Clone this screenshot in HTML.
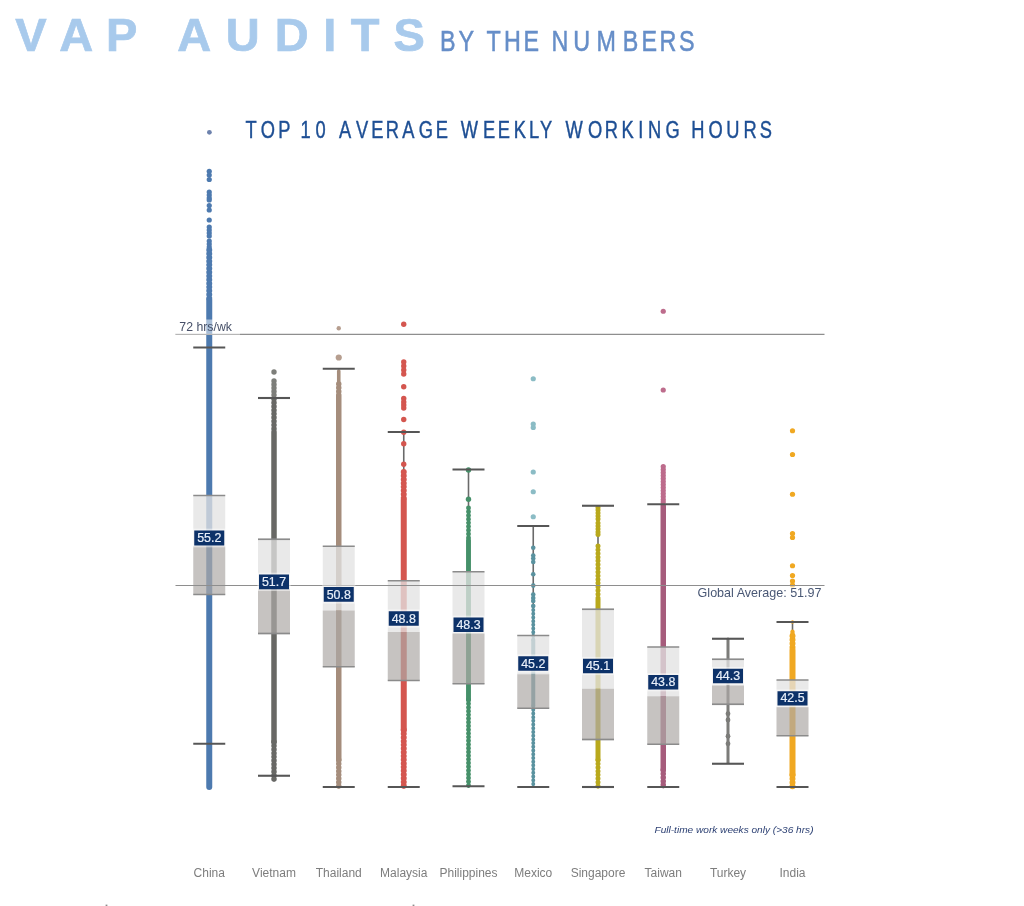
<!DOCTYPE html>
<html lang="en">
<head>
<meta charset="utf-8">
<title>VAP Audits by the Numbers</title>
<style>
html,body{margin:0;padding:0;background:#fff;}
body{width:1024px;height:906px;overflow:hidden;}
svg{display:block;font-family:"Liberation Sans",Arial,Helvetica,sans-serif;}
.big{font-weight:700;font-size:46.5px;fill:#a8caec;stroke:#a8caec;stroke-width:0.7;}
.sub{font-size:29px;fill:#668ec8;stroke:#668ec8;stroke-width:0.55;}
.ttl{font-size:23px;fill:#1e4f94;stroke:#1e4f94;stroke-width:0.45;}
.ref{font-size:12.3px;fill:#465068;}
.ax{font-size:12px;fill:#7d7d7d;text-anchor:middle;}
.lb{font-size:12.4px;fill:#e9f0fa;text-anchor:middle;stroke:#e9f0fa;stroke-width:0.2;}
.fn{font-size:9px;font-style:italic;fill:#2b3f72;}
.cap{stroke:#565656;stroke-width:2.1;}
.thin{stroke:#6a6a6a;stroke-width:1.6;}
.bx{stroke:#8b8b8b;stroke-width:1.7;}
</style>
</head>
<body>
<svg width="1024" height="906" viewBox="0 0 1024 906">
<rect width="1024" height="906" fill="#fff"/>
<defs>
<filter id="soft" x="-2%" y="-2%" width="104%" height="104%"><feGaussianBlur stdDeviation="0.55"/></filter>
<filter id="soft2" x="-2%" y="-20%" width="104%" height="140%"><feGaussianBlur stdDeviation="0.45"/></filter>
</defs>
<g filter="url(#soft2)">
<text class="big" style="font-size:47px" transform="scale(1.0000,1)" y="51.1" x="15.33 59.19 105.88 129.38 177.14 225.68 274.82 323.35 350.76 393.39">VAP AUDITS</text>
<text class="sub" style="font-size:30px" transform="scale(0.7774,1)" y="51.15" x="565.99 589.74 604.74 625.87 648.46 673.57 688.57 709.5 737.55 767.27 800.96 825.13 848.21 873.54">BY THE NUMBERS</text>
<circle cx="209.4" cy="132.3" r="2.4" fill="#6d82ad"/>
<text class="ttl" style="font-size:24.3px" transform="scale(0.7525,1)" y="138.5" x="326.25 346.68 369.76 381.91 399.37 419.13 431.28 450.58 473.2 493.22 512.79 534.62 556.6 579.03 591.18 612.24 641.89 661.49 682.89 702.91 717.61 729.76 751.6 781.44 803.71 825.78 848.07 861.11 884.55 896.7 918.65 941.67 965.09 987.92 1009.69">TOP 10 AVERAGE WEEKLY WORKING HOURS</text>
</g>
<g filter="url(#soft)">
<g id="marks">
<g fill="#4e7aaf" stroke="#4e7aaf">
<line x1="209.25" y1="250" x2="209.25" y2="787.0" stroke-width="3.9" stroke-linecap="round"/>
<line x1="209.25" y1="250" x2="209.25" y2="300" stroke-width="6" stroke-linecap="round" stroke-dasharray="0.01 3.7"/>
<line x1="209.25" y1="300" x2="209.25" y2="787.0" stroke-width="6" stroke-linecap="round"/>
<circle cx="209.25" cy="171.25" r="2.6" stroke="none"/>
<circle cx="209.25" cy="175" r="2.6" stroke="none"/>
<circle cx="209.25" cy="179.5" r="2.6" stroke="none"/>
<circle cx="209.25" cy="192" r="2.6" stroke="none"/>
<circle cx="209.25" cy="195" r="2.6" stroke="none"/>
<circle cx="209.25" cy="198" r="2.6" stroke="none"/>
<circle cx="209.25" cy="200" r="2.6" stroke="none"/>
<circle cx="209.25" cy="205.5" r="2.6" stroke="none"/>
<circle cx="209.25" cy="210" r="2.6" stroke="none"/>
<circle cx="209.25" cy="220" r="2.6" stroke="none"/>
<circle cx="209.25" cy="227" r="2.6" stroke="none"/>
<circle cx="209.25" cy="230" r="2.6" stroke="none"/>
<circle cx="209.25" cy="233" r="2.6" stroke="none"/>
<circle cx="209.25" cy="236" r="2.6" stroke="none"/>
<circle cx="209.25" cy="241" r="2.6" stroke="none"/>
<circle cx="209.25" cy="244" r="2.6" stroke="none"/>
<circle cx="209.25" cy="247" r="2.6" stroke="none"/>
</g>
<g fill="#676865" stroke="#676865">
<line x1="274" y1="399" x2="274" y2="779.75" stroke-width="3.4" stroke-linecap="round"/>
<line x1="274" y1="399" x2="274" y2="432" stroke-width="5.5" stroke-linecap="round" stroke-dasharray="0.01 3.7"/>
<line x1="274" y1="742" x2="274" y2="779.75" stroke-width="5.5" stroke-linecap="round" stroke-dasharray="0.01 3.7"/>
<line x1="274" y1="432" x2="274" y2="742" stroke-width="5.5" stroke-linecap="round"/>
<circle cx="274" cy="372" r="2.7" stroke="none" fill="#7d7e7a"/>
<circle cx="274" cy="381" r="2.7" stroke="none" fill="#7d7e7a"/>
<circle cx="274" cy="384.5" r="2.7" stroke="none" fill="#7d7e7a"/>
<circle cx="274" cy="388" r="2.7" stroke="none" fill="#7d7e7a"/>
<circle cx="274" cy="391.5" r="2.7" stroke="none" fill="#7d7e7a"/>
<circle cx="274" cy="395" r="2.7" stroke="none" fill="#7d7e7a"/>
</g>
<g fill="#a58d7c" stroke="#a58d7c">
<line x1="338.75" y1="384" x2="338.75" y2="786.75" stroke-width="3.4" stroke-linecap="round"/>
<line x1="338.75" y1="384" x2="338.75" y2="395" stroke-width="5.5" stroke-linecap="round" stroke-dasharray="0.01 3.7"/>
<line x1="338.75" y1="760" x2="338.75" y2="786.75" stroke-width="5.5" stroke-linecap="round" stroke-dasharray="0.01 3.7"/>
<line x1="338.75" y1="395" x2="338.75" y2="760" stroke-width="5.5" stroke-linecap="round"/>
<line x1="338.75" y1="371" x2="338.75" y2="384" stroke-width="3.6" stroke-linecap="round"/>
<circle cx="338.75" cy="328.25" r="2.2" stroke="none" fill="#b69e8f"/>
<circle cx="338.75" cy="357.5" r="3.1" stroke="none" fill="#b69e8f"/>
</g>
<g fill="#d4564f" stroke="#d4564f">
<line class="thin" x1="403.75" y1="432" x2="403.75" y2="472" style="stroke:#6a6a6a"/>
<line x1="403.75" y1="472" x2="403.75" y2="786.5" stroke-width="3.9" stroke-linecap="round"/>
<line x1="403.75" y1="472" x2="403.75" y2="500" stroke-width="6" stroke-linecap="round" stroke-dasharray="0.01 3.7"/>
<line x1="403.75" y1="730" x2="403.75" y2="786.5" stroke-width="6" stroke-linecap="round" stroke-dasharray="0.01 3.7"/>
<line x1="403.75" y1="500" x2="403.75" y2="730" stroke-width="6" stroke-linecap="round"/>
<circle cx="403.75" cy="324.25" r="2.7" stroke="none"/>
<circle cx="403.75" cy="362" r="2.7" stroke="none"/>
<circle cx="403.75" cy="366" r="2.7" stroke="none"/>
<circle cx="403.75" cy="370" r="2.7" stroke="none"/>
<circle cx="403.75" cy="374" r="2.7" stroke="none"/>
<circle cx="403.75" cy="386.75" r="2.7" stroke="none"/>
<circle cx="403.75" cy="398.5" r="2.7" stroke="none"/>
<circle cx="403.75" cy="402" r="2.7" stroke="none"/>
<circle cx="403.75" cy="405" r="2.7" stroke="none"/>
<circle cx="403.75" cy="408" r="2.7" stroke="none"/>
<circle cx="403.75" cy="419.5" r="2.7" stroke="none"/>
<circle cx="403.75" cy="432.3" r="2.7" stroke="none"/>
<circle cx="403.75" cy="443.75" r="2.7" stroke="none"/>
<circle cx="403.75" cy="464.25" r="2.7" stroke="none"/>
</g>
<g fill="#459069" stroke="#459069">
<line class="thin" x1="468.5" y1="469.5" x2="468.5" y2="508" style="stroke:#6a6a6a"/>
<line x1="468.5" y1="508" x2="468.5" y2="786.55" stroke-width="2.8" stroke-linecap="round"/>
<line x1="468.5" y1="508" x2="468.5" y2="540" stroke-width="4.9" stroke-linecap="round" stroke-dasharray="0.01 3.7"/>
<line x1="468.5" y1="700" x2="468.5" y2="786.55" stroke-width="4.9" stroke-linecap="round" stroke-dasharray="0.01 3.7"/>
<line x1="468.5" y1="540" x2="468.5" y2="700" stroke-width="4.9" stroke-linecap="round"/>
<circle cx="468.5" cy="470" r="2.7" stroke="none"/>
<circle cx="468.5" cy="499.25" r="2.7" stroke="none"/>
</g>
<g fill="#5a929f" stroke="#5a929f">
<line class="thin" x1="533.25" y1="526" x2="533.25" y2="636" style="stroke:#6a6a6a"/>
<line x1="533.25" y1="610" x2="533.25" y2="787.0" stroke-width="1.9" stroke-linecap="round"/>
<line x1="533.25" y1="610" x2="533.25" y2="640" stroke-width="4" stroke-linecap="round" stroke-dasharray="0.01 3.7"/>
<line x1="533.25" y1="706" x2="533.25" y2="787.0" stroke-width="4" stroke-linecap="round" stroke-dasharray="0.01 3.7"/>
<line x1="533.25" y1="640" x2="533.25" y2="706" stroke-width="4" stroke-linecap="round"/>
<circle cx="533.25" cy="547.7" r="2.3" stroke="none"/>
<circle cx="533.25" cy="555.5" r="2.3" stroke="none"/>
<circle cx="533.25" cy="558.5" r="2.3" stroke="none"/>
<circle cx="533.25" cy="562" r="2.3" stroke="none"/>
<circle cx="533.25" cy="574.2" r="2.3" stroke="none"/>
<circle cx="533.25" cy="585.6" r="2.3" stroke="none"/>
<circle cx="533.25" cy="594.5" r="2.3" stroke="none"/>
<circle cx="533.25" cy="598" r="2.3" stroke="none"/>
<circle cx="533.25" cy="601" r="2.3" stroke="none"/>
<circle cx="533.25" cy="606" r="2.3" stroke="none"/>
<circle cx="533.25" cy="378.75" r="2.6" stroke="none" fill="#8bbcc5"/>
<circle cx="533.25" cy="424" r="2.6" stroke="none" fill="#8bbcc5"/>
<circle cx="533.25" cy="427.5" r="2.6" stroke="none" fill="#8bbcc5"/>
<circle cx="533.25" cy="472" r="2.6" stroke="none" fill="#8bbcc5"/>
<circle cx="533.25" cy="491.75" r="2.6" stroke="none" fill="#8bbcc5"/>
<circle cx="533.25" cy="516.75" r="2.6" stroke="none" fill="#8bbcc5"/>
</g>
<g fill="#b9a91e" stroke="#b9a91e">
<line class="thin" x1="598" y1="506" x2="598" y2="546" style="stroke:#6a6a6a"/>
<line x1="598" y1="546" x2="598" y2="787.0" stroke-width="2.9" stroke-linecap="round"/>
<line x1="598" y1="546" x2="598" y2="600" stroke-width="5" stroke-linecap="round" stroke-dasharray="0.01 3.7"/>
<line x1="598" y1="760" x2="598" y2="787.0" stroke-width="5" stroke-linecap="round" stroke-dasharray="0.01 3.7"/>
<line x1="598" y1="600" x2="598" y2="760" stroke-width="5" stroke-linecap="round"/>
<circle cx="598" cy="507.5" r="2.5" stroke="none"/>
<circle cx="598" cy="510" r="2.5" stroke="none"/>
<circle cx="598" cy="513" r="2.5" stroke="none"/>
<circle cx="598" cy="516" r="2.5" stroke="none"/>
<circle cx="598" cy="519" r="2.5" stroke="none"/>
<circle cx="598" cy="523" r="2.5" stroke="none"/>
<circle cx="598" cy="526" r="2.5" stroke="none"/>
<circle cx="598" cy="529" r="2.5" stroke="none"/>
<circle cx="598" cy="532" r="2.5" stroke="none"/>
<circle cx="598" cy="534.5" r="2.5" stroke="none"/>
</g>
<g fill="#a65c7b" stroke="#a65c7b">
<line x1="663.25" y1="504" x2="663.25" y2="786.75" stroke-width="3.4" stroke-linecap="round"/>
<line x1="663.25" y1="770" x2="663.25" y2="786.75" stroke-width="5.5" stroke-linecap="round" stroke-dasharray="0.01 3.7"/>
<line x1="663.25" y1="506" x2="663.25" y2="770" stroke-width="5.5" stroke-linecap="round"/>
<circle cx="663.25" cy="311.25" r="2.6" stroke="none" fill="#bd6c8c"/>
<circle cx="663.25" cy="390" r="2.6" stroke="none" fill="#bd6c8c"/>
<circle cx="663.25" cy="466.5" r="2.6" stroke="none" fill="#bd6c8c"/>
<circle cx="663.25" cy="469.5" r="2.6" stroke="none" fill="#bd6c8c"/>
<circle cx="663.25" cy="472.5" r="2.6" stroke="none" fill="#bd6c8c"/>
<circle cx="663.25" cy="475.5" r="2.6" stroke="none" fill="#bd6c8c"/>
<circle cx="663.25" cy="478.5" r="2.6" stroke="none" fill="#bd6c8c"/>
<circle cx="663.25" cy="481.5" r="2.6" stroke="none" fill="#bd6c8c"/>
<circle cx="663.25" cy="484.5" r="2.6" stroke="none" fill="#bd6c8c"/>
<circle cx="663.25" cy="487.5" r="2.6" stroke="none" fill="#bd6c8c"/>
<circle cx="663.25" cy="490.5" r="2.6" stroke="none" fill="#bd6c8c"/>
<circle cx="663.25" cy="493.5" r="2.6" stroke="none" fill="#bd6c8c"/>
<circle cx="663.25" cy="496.5" r="2.6" stroke="none" fill="#bd6c8c"/>
<circle cx="663.25" cy="499.5" r="2.6" stroke="none" fill="#bd6c8c"/>
<circle cx="663.25" cy="502" r="2.6" stroke="none" fill="#bd6c8c"/>
</g>
<g fill="#7b7b79" stroke="#7b7b79">
<line x1="728" y1="639" x2="728" y2="762.5" stroke-width="0.9" stroke-linecap="round"/>
<line x1="728" y1="639" x2="728" y2="762.5" stroke-width="3" stroke-linecap="round"/>
<circle cx="728" cy="713.75" r="2.4" stroke="none"/>
<circle cx="728" cy="720" r="2.4" stroke="none"/>
<circle cx="728" cy="736.25" r="2.4" stroke="none"/>
<circle cx="728" cy="743.75" r="2.4" stroke="none"/>
</g>
<g fill="#f0a820" stroke="#f0a820">
<line class="thin" x1="792.5" y1="622" x2="792.5" y2="640" style="stroke:#6a6a6a"/>
<line x1="792.5" y1="636" x2="792.5" y2="786.5" stroke-width="3.9" stroke-linecap="round"/>
<line x1="792.5" y1="636" x2="792.5" y2="650" stroke-width="6" stroke-linecap="round" stroke-dasharray="0.01 3.7"/>
<line x1="792.5" y1="775" x2="792.5" y2="786.5" stroke-width="6" stroke-linecap="round" stroke-dasharray="0.01 3.7"/>
<line x1="792.5" y1="650" x2="792.5" y2="775" stroke-width="6" stroke-linecap="round"/>
<line x1="792.5" y1="631.5" x2="792.5" y2="637" stroke-width="4.2" stroke-linecap="round"/>
<circle cx="792.5" cy="430.75" r="2.6" stroke="none"/>
<circle cx="792.5" cy="454.5" r="2.6" stroke="none"/>
<circle cx="792.5" cy="494.25" r="2.6" stroke="none"/>
<circle cx="792.5" cy="533.5" r="2.6" stroke="none"/>
<circle cx="792.5" cy="537.5" r="2.6" stroke="none"/>
<circle cx="792.5" cy="565.75" r="2.6" stroke="none"/>
<circle cx="792.5" cy="575.5" r="2.6" stroke="none"/>
<circle cx="792.5" cy="581" r="2.6" stroke="none"/>
<circle cx="792.5" cy="585" r="2.6" stroke="none"/>
<circle cx="792.5" cy="622" r="1.7" stroke="none"/>
</g>
</g>
<g id="boxes">
<rect x="193.25" y="495.5" width="32" height="50.5" fill="#e2e2e2" fill-opacity="0.77"/>
<rect x="193.25" y="546" width="32" height="48.5" fill="#aeaaa7" fill-opacity="0.7"/>
<line class="bx" x1="193.25" y1="495.5" x2="225.25" y2="495.5"/>
<line class="bx" x1="193.25" y1="594.5" x2="225.25" y2="594.5"/>
<line class="cap" x1="193.25" y1="347.5" x2="225.25" y2="347.5"/>
<line class="cap" x1="193.25" y1="743.75" x2="225.25" y2="743.75"/>
<rect x="258" y="539.25" width="32" height="49.5" fill="#e2e2e2" fill-opacity="0.77"/>
<rect x="258" y="588.75" width="32" height="44.75" fill="#aeaaa7" fill-opacity="0.7"/>
<line class="bx" x1="258" y1="539.25" x2="290" y2="539.25"/>
<line class="bx" x1="258" y1="633.5" x2="290" y2="633.5"/>
<line class="cap" x1="258" y1="398" x2="290" y2="398"/>
<line class="cap" x1="258" y1="775.75" x2="290" y2="775.75"/>
<rect x="322.75" y="546.25" width="32" height="64.25" fill="#e2e2e2" fill-opacity="0.77"/>
<rect x="322.75" y="610.5" width="32" height="56.25" fill="#aeaaa7" fill-opacity="0.7"/>
<line class="bx" x1="322.75" y1="546.25" x2="354.75" y2="546.25"/>
<line class="bx" x1="322.75" y1="666.75" x2="354.75" y2="666.75"/>
<line class="cap" x1="322.75" y1="368.75" x2="354.75" y2="368.75"/>
<line class="cap" x1="322.75" y1="787" x2="354.75" y2="787"/>
<rect x="387.75" y="580.75" width="32" height="51.25" fill="#e2e2e2" fill-opacity="0.77"/>
<rect x="387.75" y="632" width="32" height="48.5" fill="#aeaaa7" fill-opacity="0.7"/>
<line class="bx" x1="387.75" y1="580.75" x2="419.75" y2="580.75"/>
<line class="bx" x1="387.75" y1="680.5" x2="419.75" y2="680.5"/>
<line class="cap" x1="387.75" y1="432" x2="419.75" y2="432"/>
<line class="cap" x1="387.75" y1="787" x2="419.75" y2="787"/>
<rect x="452.5" y="571.75" width="32" height="61.25" fill="#e2e2e2" fill-opacity="0.77"/>
<rect x="452.5" y="633" width="32" height="50.75" fill="#aeaaa7" fill-opacity="0.7"/>
<line class="bx" x1="452.5" y1="571.75" x2="484.5" y2="571.75"/>
<line class="bx" x1="452.5" y1="683.75" x2="484.5" y2="683.75"/>
<line class="cap" x1="452.5" y1="469.5" x2="484.5" y2="469.5"/>
<line class="cap" x1="452.5" y1="786.25" x2="484.5" y2="786.25"/>
<rect x="517.25" y="635.5" width="32" height="38.75" fill="#e2e2e2" fill-opacity="0.77"/>
<rect x="517.25" y="674.25" width="32" height="34.0" fill="#aeaaa7" fill-opacity="0.7"/>
<line class="bx" x1="517.25" y1="635.5" x2="549.25" y2="635.5"/>
<line class="bx" x1="517.25" y1="708.25" x2="549.25" y2="708.25"/>
<line class="cap" x1="517.25" y1="526" x2="549.25" y2="526"/>
<line class="cap" x1="517.25" y1="787" x2="549.25" y2="787"/>
<rect x="582" y="609.25" width="32" height="79.5" fill="#e2e2e2" fill-opacity="0.77"/>
<rect x="582" y="688.75" width="32" height="50.75" fill="#aeaaa7" fill-opacity="0.7"/>
<line class="bx" x1="582" y1="609.25" x2="614" y2="609.25"/>
<line class="bx" x1="582" y1="739.5" x2="614" y2="739.5"/>
<line class="cap" x1="582" y1="505.75" x2="614" y2="505.75"/>
<line class="cap" x1="582" y1="787" x2="614" y2="787"/>
<rect x="647.25" y="647" width="32" height="49.25" fill="#e2e2e2" fill-opacity="0.77"/>
<rect x="647.25" y="696.25" width="32" height="48.0" fill="#aeaaa7" fill-opacity="0.7"/>
<line class="bx" x1="647.25" y1="647" x2="679.25" y2="647"/>
<line class="bx" x1="647.25" y1="744.25" x2="679.25" y2="744.25"/>
<line class="cap" x1="647.25" y1="504.25" x2="679.25" y2="504.25"/>
<line class="cap" x1="647.25" y1="787" x2="679.25" y2="787"/>
<rect x="712" y="659.25" width="32" height="26.25" fill="#e2e2e2" fill-opacity="0.77"/>
<rect x="712" y="685.5" width="32" height="18.75" fill="#aeaaa7" fill-opacity="0.7"/>
<line class="bx" x1="712" y1="659.25" x2="744" y2="659.25"/>
<line class="bx" x1="712" y1="704.25" x2="744" y2="704.25"/>
<line class="cap" x1="712" y1="638.75" x2="744" y2="638.75"/>
<line class="cap" x1="712" y1="763.75" x2="744" y2="763.75"/>
<rect x="776.5" y="680" width="32" height="27" fill="#e2e2e2" fill-opacity="0.77"/>
<rect x="776.5" y="707" width="32" height="28.75" fill="#aeaaa7" fill-opacity="0.7"/>
<line class="bx" x1="776.5" y1="680" x2="808.5" y2="680"/>
<line class="bx" x1="776.5" y1="735.75" x2="808.5" y2="735.75"/>
<line class="cap" x1="776.5" y1="622" x2="808.5" y2="622"/>
<line class="cap" x1="776.5" y1="787" x2="808.5" y2="787"/>
</g>
<g id="reflines">
<line x1="175.5" y1="334.4" x2="824.5" y2="334.4" stroke="#8e8e8e" stroke-width="1.2"/>
<line x1="175.5" y1="585.5" x2="824.5" y2="585.5" stroke="#8e8e8e" stroke-width="1.2"/>
</g>
<g id="labels">
<rect x="192.65" y="528.7" width="33.2" height="18.6" fill="#fff" fill-opacity="0.5"/>
<rect x="194.25" y="530.5" width="30" height="15.0" fill="#0c3169"/>
<text class="lb" x="209.25" y="542.3">55.2</text>
<rect x="257.4" y="572.7" width="33.2" height="18.35" fill="#fff" fill-opacity="0.5"/>
<rect x="259" y="574.5" width="30" height="14.75" fill="#0c3169"/>
<text class="lb" x="274" y="586.05">51.7</text>
<rect x="322.15" y="585.2" width="33.2" height="18.35" fill="#fff" fill-opacity="0.5"/>
<rect x="323.75" y="587" width="30" height="14.75" fill="#0c3169"/>
<text class="lb" x="338.75" y="598.55">50.8</text>
<rect x="387.15" y="609.45" width="33.2" height="18.1" fill="#fff" fill-opacity="0.5"/>
<rect x="388.75" y="611.25" width="30" height="14.5" fill="#0c3169"/>
<text class="lb" x="403.75" y="622.55">48.8</text>
<rect x="451.9" y="615.7" width="33.2" height="18.1" fill="#fff" fill-opacity="0.5"/>
<rect x="453.5" y="617.5" width="30" height="14.5" fill="#0c3169"/>
<text class="lb" x="468.5" y="628.8">48.3</text>
<rect x="516.65" y="654.45" width="33.2" height="18.1" fill="#fff" fill-opacity="0.5"/>
<rect x="518.25" y="656.25" width="30" height="14.5" fill="#0c3169"/>
<text class="lb" x="533.25" y="667.55">45.2</text>
<rect x="581.4" y="656.95" width="33.2" height="18.1" fill="#fff" fill-opacity="0.5"/>
<rect x="583" y="658.75" width="30" height="14.5" fill="#0c3169"/>
<text class="lb" x="598" y="670.05">45.1</text>
<rect x="646.65" y="673.2" width="33.2" height="18.1" fill="#fff" fill-opacity="0.5"/>
<rect x="648.25" y="675" width="30" height="14.5" fill="#0c3169"/>
<text class="lb" x="663.25" y="686.3">43.8</text>
<rect x="711.4" y="666.95" width="33.2" height="18.1" fill="#fff" fill-opacity="0.5"/>
<rect x="713" y="668.75" width="30" height="14.5" fill="#0c3169"/>
<text class="lb" x="728" y="680.05">44.3</text>
<rect x="775.9" y="689.45" width="33.2" height="17.85" fill="#fff" fill-opacity="0.5"/>
<rect x="777.5" y="691.25" width="30" height="14.25" fill="#0c3169"/>
<text class="lb" x="792.5" y="702.3">42.5</text>
</g>
<rect x="175.5" y="319.5" width="64.5" height="15.2" fill="#fff" fill-opacity="0.5"/>
<text class="ref" x="179.3" y="330.6">72 hrs/wk</text>
<rect x="695" y="586.2" width="129.5" height="15" fill="#fff" fill-opacity="0.6"/>
<text class="ref" style="font-size:12.55px;fill:#4a5875" x="697.6" y="597.0">Global Average: 51.97</text>
<text class="fn" x="654.5" y="832.5" textLength="159" lengthAdjust="spacingAndGlyphs">Full-time work weeks only (&gt;36 hrs)</text>
<g id="axis">
<text class="ax" x="209.25" y="876.6">China</text>
<text class="ax" x="274" y="876.6">Vietnam</text>
<text class="ax" x="338.75" y="876.6">Thailand</text>
<text class="ax" x="403.75" y="876.6">Malaysia</text>
<text class="ax" x="468.5" y="876.6">Philippines</text>
<text class="ax" x="533.25" y="876.6">Mexico</text>
<text class="ax" x="598" y="876.6">Singapore</text>
<text class="ax" x="663.25" y="876.6">Taiwan</text>
<text class="ax" x="728" y="876.6">Turkey</text>
<text class="ax" x="792.5" y="876.6">India</text>
</g>
</g>
<rect x="105.6" y="904.6" width="1.8" height="1.4" fill="#8c8c8c"/>
<rect x="412.6" y="904.6" width="1.8" height="1.4" fill="#8c8c8c"/>
</svg>
</body>
</html>
